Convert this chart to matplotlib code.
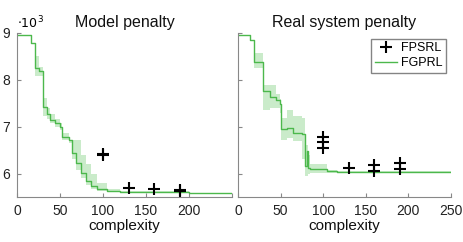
import matplotlib.pyplot as plt

plt.rcParams['font.family'] = ['Liberation Sans', 'DejaVu Sans']

green = '#4cb84c'
band = '#a8dfa8'

# Model penalty (values in 1e3)
model_x = [0, 16, 20.5, 25.5, 30.5, 35.5, 38, 44, 50, 52, 60, 64, 69, 74, 80, 86, 93, 105, 120, 200, 250]
model_y = [8.96, 8.78, 8.25, 8.18, 7.42, 7.26, 7.15, 7.08, 7.00, 6.79, 6.72, 6.44, 6.23, 6.02, 5.84, 5.73, 5.66, 5.62, 5.60, 5.58, 5.58]
model_lo = [8.96, 8.78, 8.08, 8.08, 7.22, 7.16, 7.07, 7.00, 6.92, 6.72, 6.66, 6.30, 6.08, 5.90, 5.76, 5.67, 5.62, 5.60, 5.59, 5.58, 5.58]
model_hi = [8.96, 8.78, 8.50, 8.28, 7.62, 7.40, 7.26, 7.16, 7.08, 6.86, 6.72, 6.72, 6.72, 6.40, 6.20, 6.00, 5.80, 5.68, 5.62, 5.59, 5.58]
model_px = [100, 100, 130, 160, 190, 190]
model_py = [6.42, 6.40, 5.70, 5.67, 5.64, 5.62]

# Real system penalty
real_x = [0, 14, 19, 29.5, 37, 45, 49, 51, 58, 65, 75, 78.5, 81, 82, 84.5, 104, 116, 250]
real_y = [8.96, 8.84, 8.38, 7.77, 7.64, 7.57, 7.48, 6.94, 6.98, 6.87, 6.84, 6.16, 6.48, 6.12, 6.09, 6.05, 6.03, 6.03]
real_lo = [8.96, 8.84, 8.25, 7.36, 7.40, 7.40, 7.30, 6.72, 6.75, 6.70, 6.30, 5.95, 5.95, 5.98, 6.02, 6.02, 6.02, 6.02]
real_hi = [8.96, 8.84, 8.57, 7.89, 7.89, 7.70, 7.60, 7.19, 7.35, 7.22, 7.18, 6.60, 6.60, 6.40, 6.20, 6.08, 6.05, 6.03]
real_px = [100, 100, 100, 130, 160, 160, 190, 190]
real_py = [6.78, 6.67, 6.55, 6.12, 6.18, 6.05, 6.23, 6.09]

fig = plt.figure(figsize=(4.64, 2.42), dpi=100)
ax1 = fig.add_axes([0.0366, 0.186, 0.463, 0.678])
ax2 = fig.add_axes([0.513, 0.186, 0.459, 0.678])

panels = [
    (ax1, 'Model penalty', model_x, model_y, model_lo, model_hi, model_px, model_py),
    (ax2, 'Real system penalty', real_x, real_y, real_lo, real_hi, real_px, real_py),
]
for ax, title, x, y, lo, hi, px, py in panels:
    ax.fill_between(x, lo, hi, step='post', color=band, alpha=0.6, linewidth=0)
    ax.step(x, y, where='post', color=green, linewidth=1, label='FGPRL')
    ax.plot(px, py, '+', color='black', markersize=9, markeredgewidth=1.5, label='FPSRL')
    ax.set_xlim(0, 250)
    ax.set_ylim(5.5, 9)
    ax.set_xticks([0, 50, 100, 150, 200, 250])
    ax.set_yticks([6, 7, 8, 9])
    ax.set_title(title, fontsize=11.5, color='#111111', pad=4)
    ax.set_xlabel('complexity', fontsize=11, labelpad=1, color='#111111')
    for s in ['top', 'right']:
        ax.spines[s].set_visible(False)
    for s in ['left', 'bottom']:
        ax.spines[s].set_color('#888888')
        ax.spines[s].set_linewidth(0.8)
    ax.tick_params(direction='in', length=3, color='#888888', labelsize=10,
                   labelcolor='#222222', pad=5)

ax1.set_xticklabels(['0', '50', '100', '150', '200', ''])
ax2.set_yticklabels([])
ax1.text(0.0, 1.01, r'$\cdot 10^3$', transform=ax1.transAxes, fontsize=9, ha='left', va='bottom')

h, l = ax2.get_legend_handles_labels()
ax2.legend([h[1], h[0]], [l[1], l[0]], loc='upper right', bbox_to_anchor=(0.99, 0.98),
           fontsize=9, frameon=True, fancybox=False, edgecolor='#666666',
           handlelength=1.8, borderpad=0.3, labelspacing=0.2, handletextpad=0.3,
           borderaxespad=0.2)

fig.savefig('out.png', dpi=100)
